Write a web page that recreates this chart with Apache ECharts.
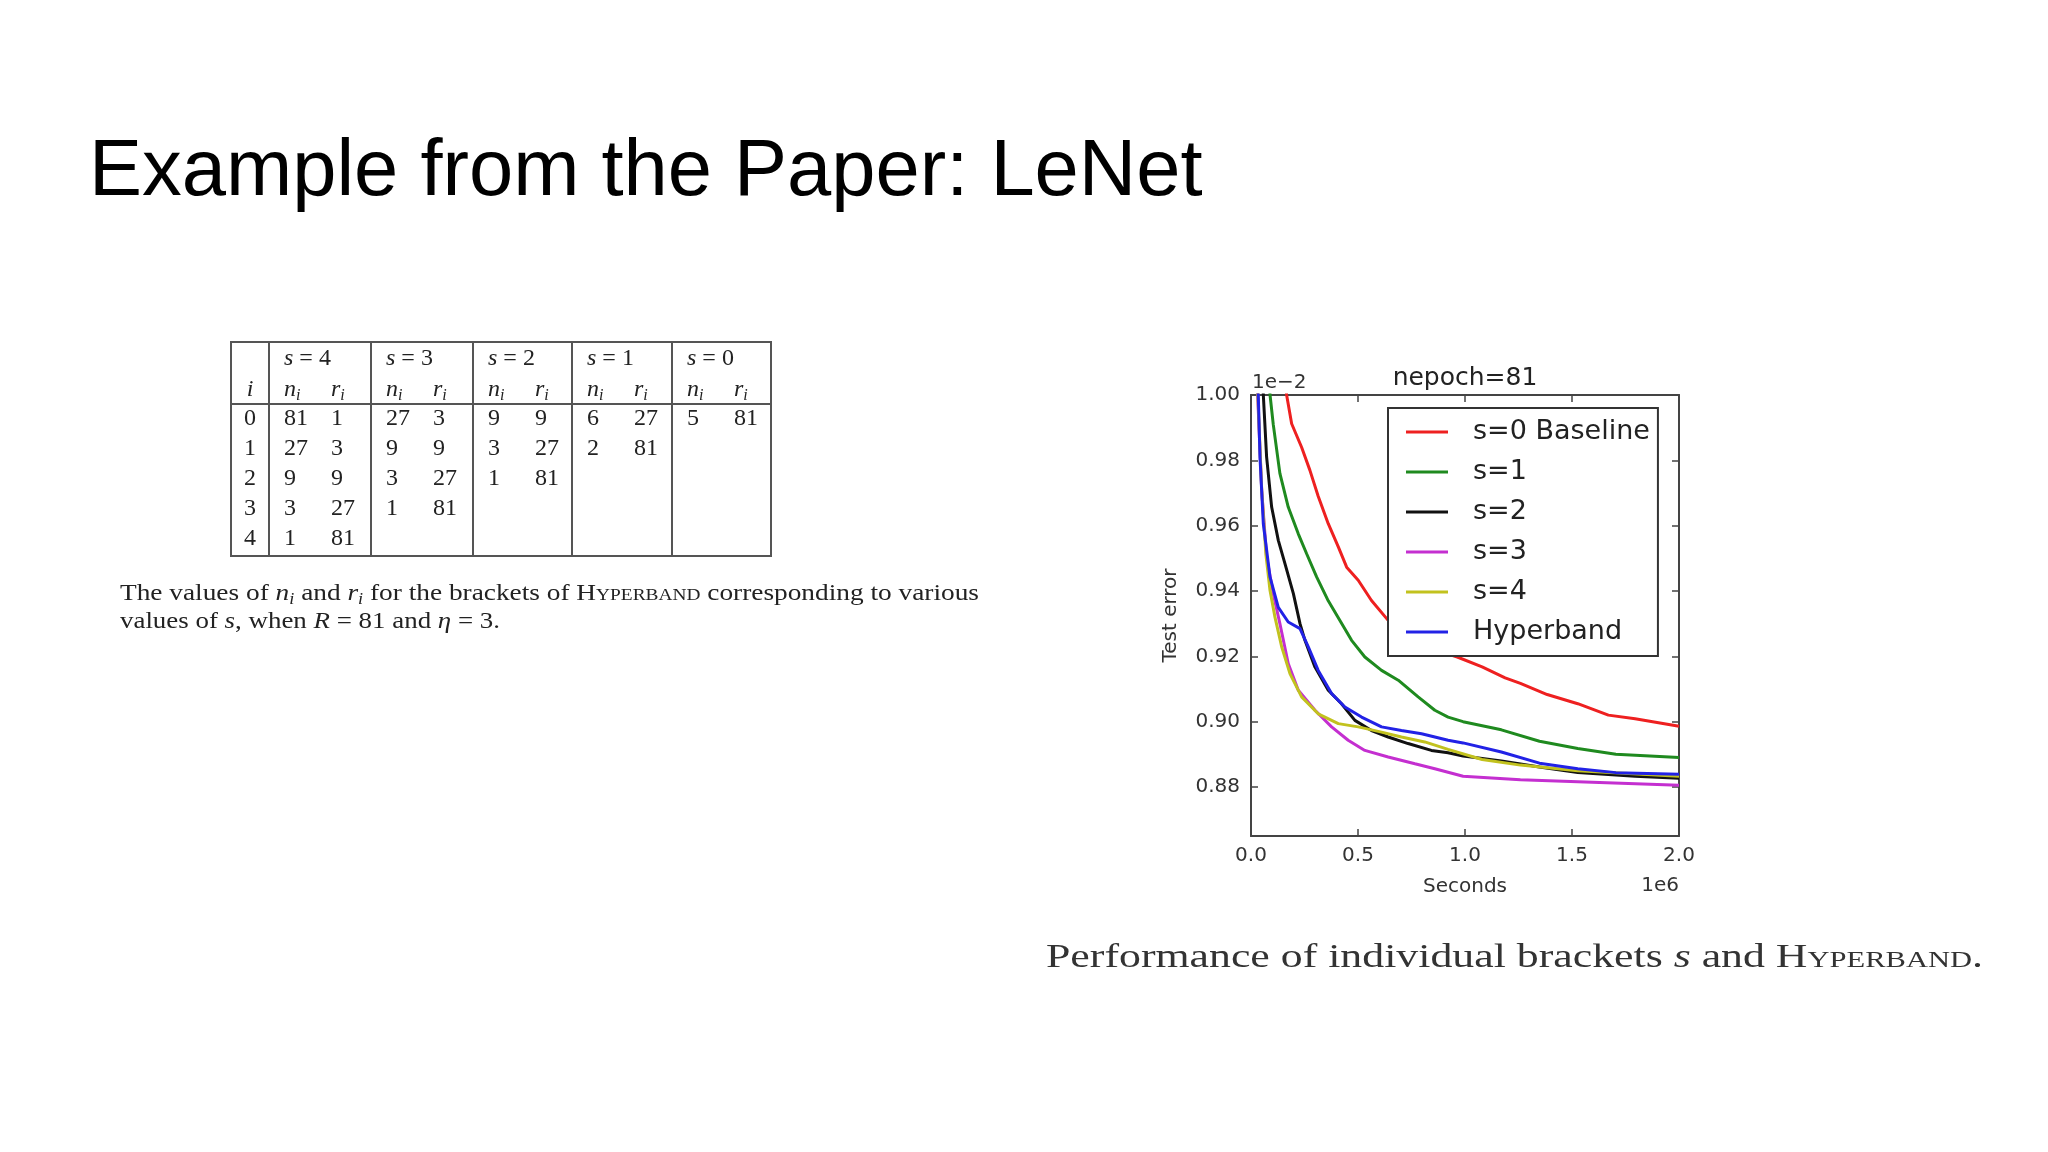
<!DOCTYPE html>
<html><head><meta charset="utf-8">
<script src="https://cdn.jsdelivr.net/npm/echarts@6/dist/echarts.min.js"></script>
<style>
html,body{margin:0;padding:0;background:#fff;}
#page{position:relative;width:2048px;height:1152px;overflow:hidden;background:#fff;}
#chart{position:absolute;left:0;top:0;width:2048px;height:1152px;}
#slideTitle{position:absolute;left:89px;top:128px;font-family:'Liberation Sans',Arial,sans-serif;font-size:79.5px;line-height:79px;color:#000;white-space:nowrap;}
#tbl{position:absolute;left:230px;top:341px;border-collapse:collapse;table-layout:fixed;font-family:'Liberation Serif',serif;font-size:24px;color:#222;border:2px solid #555;}
#tbl td{padding:0 0 0 14px;text-align:left;vertical-align:middle;white-space:nowrap;overflow:visible;line-height:22px;}
#tbl td.ic{padding-left:0;text-align:center;}
#tbl td.bl{border-left:2px solid #555;}
#tbl tr.h1 td{height:28px;padding-bottom:5px;}
#tbl tr.h2 td{height:23px;padding-bottom:4px;border-bottom:2px solid #555;}
#tbl tr.d td{height:24px;padding-bottom:6px;}
#tbl sub{font-size:16px;vertical-align:-4px;line-height:0;}
.eq{margin:0 6px;}
.cap1{position:absolute;left:120px;font-family:'Liberation Serif',serif;font-size:24px;color:#222;white-space:nowrap;line-height:28px;transform-origin:0 0;}
.cap1 sub{font-size:16px;vertical-align:-4px;line-height:0;}
#cap2{position:absolute;left:1046px;top:936px;font-family:'Liberation Serif',serif;font-size:33px;line-height:40px;color:#333;white-space:nowrap;transform-origin:0 0;}
.sc{font-variant:small-caps;}
</style>
</head><body>
<div id="page">
<div id="chart"></div>
<div id="slideTitle">Example from the Paper: LeNet</div>
<table id="tbl"><colgroup id="cols"></colgroup><tbody id="tbody"></tbody></table>
<div class="cap1" id="cap1a" style="top:578px;">The values of <i>n<sub>i</sub></i> and <i>r<sub>i</sub></i> for the brackets of <span class="sc">Hyperband</span> corresponding to various</div>
<div class="cap1" id="cap1b" style="top:606px;">values of <i>s</i>, when <i>R</i> = 81 and <i>η</i> = 3.</div>
<div id="cap2">Performance of individual brackets <i>s</i> and <span class="sc">Hyperband</span>.</div>
</div>
<script>
// ---------- table data ----------
const bracketLabels = ['4', '3', '2', '1', '0'];
const stageIndex = [0, 1, 2, 3, 4];
const tableN = [[81, 27, 9, 3, 1], [27, 9, 3, 1], [9, 3, 1], [6, 2], [5]];
const tableR = [[1, 3, 9, 27, 81], [3, 9, 27, 81], [9, 27, 81], [27, 81], [81]];

// ---------- chart data (x in 1e6 seconds, y as shown on axis) ----------
const seriesNames = ['s=0 Baseline', 's=1', 's=2', 's=3', 's=4', 'Hyperband'];
const seriesColors = ['#ee2020', '#1f8a1f', '#111111', '#c42fd0', '#c2c21e', '#2222e6'];
const xTickValues = [0, 0.5, 1.0, 1.5, 2.0];
const yTickValues = [0.88, 0.90, 0.92, 0.94, 0.96, 0.98, 1.00];
const s0Baseline = [[0.160,1.005],[0.1665,1.0],[0.19,0.9912],[0.2365,0.984],[0.275,0.977],[0.314,0.969],[0.361,0.9606],[0.408,0.9535],[0.447,0.9473],[0.501,0.9433],[0.563,0.9371],[0.641,0.931],[0.75,0.926],[0.86,0.922],[0.964,0.9198],[1.08,0.9168],[1.1875,0.9134],[1.259,0.9117],[1.384,0.9083],[1.527,0.9055],[1.67,0.902],[1.795,0.9009],[2.0,0.8986]];
const s1 = [[0.085,1.005],[0.089,1.0],[0.104,0.991],[0.135,0.976],[0.174,0.9657],[0.221,0.9575],[0.26,0.9514],[0.3066,0.9443],[0.361,0.937],[0.4155,0.931],[0.47,0.9249],[0.532,0.9198],[0.61,0.9157],[0.688,0.9127],[0.781,0.9076],[0.859,0.9035],[0.921,0.9014],[0.991,0.9],[1.17,0.8975],[1.348,0.894],[1.527,0.8918],[1.705,0.89],[2.0,0.889]];
const s2 = [[0.054,1.005],[0.0576,1.0],[0.073,0.981],[0.0965,0.9657],[0.1276,0.9555],[0.159,0.9483],[0.198,0.9392],[0.229,0.930],[0.252,0.9249],[0.299,0.9167],[0.361,0.9096],[0.423,0.9055],[0.4855,0.9004],[0.563,0.8973],[0.641,0.8953],[0.734,0.8933],[0.843,0.8912],[0.921,0.8905],[0.991,0.8895],[1.17,0.888],[1.348,0.8861],[1.527,0.8844],[1.795,0.8833],[2.0,0.8827]];
const s3 = [[0.028,1.005],[0.031,1.0],[0.05,0.9708],[0.073,0.9504],[0.104,0.9392],[0.135,0.930],[0.174,0.9178],[0.221,0.9096],[0.299,0.9035],[0.3766,0.8984],[0.454,0.8943],[0.532,0.8912],[0.641,0.8892],[0.766,0.8871],[0.859,0.8856],[0.991,0.8833],[1.259,0.8822],[1.527,0.8816],[2.0,0.8805]];
const s4 = [[0.029,1.005],[0.032,1.0],[0.05,0.971],[0.07,0.951],[0.0887,0.9402],[0.112,0.932],[0.143,0.923],[0.182,0.9147],[0.2365,0.9076],[0.314,0.9024],[0.408,0.8994],[0.501,0.8984],[0.61,0.8968],[0.703,0.8953],[0.812,0.8938],[0.921,0.8915],[1.08,0.8884],[1.259,0.8867],[1.527,0.885],[2.0,0.8833]];
const hyperband = [[0.031,1.005],[0.034,1.0],[0.042,0.981],[0.0576,0.9606],[0.0887,0.9443],[0.1276,0.935],[0.174,0.9305],[0.229,0.9285],[0.2677,0.9229],[0.314,0.9157],[0.3766,0.9086],[0.4388,0.9045],[0.5166,0.9014],[0.61,0.8984],[0.703,0.8973],[0.797,0.8963],[0.921,0.8943],[0.991,0.8935],[1.17,0.8907],[1.348,0.8873],[1.527,0.8856],[1.705,0.8844],[2.0,0.8839]];
const seriesData = [s0Baseline, s1, s2, s3, s4, hyperband];

// ---------- build table ----------
(function(){
  const colW = [38, 48, 54, 48, 54, 48, 51, 48, 52, 48, 51];
  const cg = document.getElementById('cols');
  colW.forEach(w => { const c = document.createElement('col'); c.style.width = w + 'px'; cg.appendChild(c); });
  const tb = document.getElementById('tbody');
  let h1 = '<tr class="h1"><td class="ic"></td>';
  bracketLabels.forEach(b => { h1 += '<td class="bl" colspan="2"><i>s</i><span class="eq">=</span>' + b + '</td>'; });
  h1 += '</tr>';
  let h2 = '<tr class="h2"><td class="ic"><i>i</i></td>';
  bracketLabels.forEach(() => { h2 += '<td class="bl"><i>n<sub>i</sub></i></td><td><i>r<sub>i</sub></i></td>'; });
  h2 += '</tr>';
  let rows = '';
  stageIndex.forEach(i => {
    rows += '<tr class="d"><td class="ic">' + i + '</td>';
    bracketLabels.forEach((b, k) => {
      const n = tableN[k][i], r = tableR[k][i];
      rows += '<td class="bl">' + (n === undefined ? '' : n) + '</td><td>' + (r === undefined ? '' : r) + '</td>';
    });
    rows += '</tr>';
  });
  tb.innerHTML = h1 + h2 + rows;
})();

// ---------- fit caption widths to the paper's wider font ----------
function fitWidth(id, target) {
  const el = document.getElementById(id);
  el.style.transform = 'none';
  const w = el.getBoundingClientRect().width;
  if (w > 0) el.style.transform = 'scaleX(' + (target / w) + ')';
}
function fitAll() {
  fitWidth('cap1a', 859);
  fitWidth('cap1b', 380);
  fitWidth('cap2', 937);
}
fitAll();
if (document.fonts && document.fonts.ready) document.fonts.ready.then(fitAll);

// ---------- chart ----------
const chart = echarts.init(document.getElementById('chart'), null, {renderer: 'canvas'});
const axisLineStyle = {color: '#444', width: 2};
const tickStyle = {color: '#444', width: 1.5};
const labelFont = {color: '#333', fontSize: 20, fontFamily: 'DejaVu Sans'};
const option = {
  animation: false,
  backgroundColor: 'transparent',
  grid: {left: 1251, top: 395, width: 428, height: 441, containLabel: false},
  xAxis: [
    {type: 'value', gridIndex: 0, position: 'bottom', min: 0, max: 2, interval: 0.5,
     axisLine: {show: true, onZero: false, lineStyle: axisLineStyle},
     axisTick: {show: true, inside: true, length: 7, lineStyle: tickStyle},
     axisLabel: Object.assign({margin: 10, formatter: v => v.toFixed(1)}, labelFont),
     splitLine: {show: false},
     name: 'Seconds', nameLocation: 'middle', nameGap: 41,
     nameTextStyle: {color: '#333', fontSize: 20, fontFamily: 'DejaVu Sans'}},
    {type: 'value', gridIndex: 0, position: 'top', min: 0, max: 2, interval: 0.5,
     axisLine: {show: true, onZero: false, lineStyle: axisLineStyle},
     axisTick: {show: true, inside: true, length: 7, lineStyle: tickStyle},
     axisLabel: {show: false}, splitLine: {show: false}}
  ],
  yAxis: [
    {type: 'value', gridIndex: 0, position: 'left', min: 0.865, max: 1.0,
     axisLine: {show: true, onZero: false, lineStyle: axisLineStyle},
     axisTick: {show: true, inside: true, length: 7, lineStyle: tickStyle, customValues: yTickValues},
     axisLabel: Object.assign({margin: 11, customValues: yTickValues, formatter: v => v.toFixed(2)}, labelFont),
     splitLine: {show: false},
     name: 'Test error', nameLocation: 'middle', nameGap: 70, nameRotate: 90,
     nameTextStyle: {color: '#333', fontSize: 20, fontFamily: 'DejaVu Sans'}},
    {type: 'value', gridIndex: 0, position: 'right', min: 0.865, max: 1.0,
     axisLine: {show: true, onZero: false, lineStyle: axisLineStyle},
     axisTick: {show: true, inside: true, length: 7, lineStyle: tickStyle, customValues: yTickValues},
     axisLabel: {show: false}, splitLine: {show: false}}
  ],
  legend: {
    data: seriesNames, orient: 'vertical', left: 1388, top: 408,
    backgroundColor: '#fff', borderColor: '#333', borderWidth: 2, borderRadius: 0,
    padding: [9, 8, 9, 18], itemGap: 10, itemWidth: 42, itemHeight: 3, icon: 'rect',
    selectedMode: false,
    textStyle: {fontFamily: 'DejaVu Sans', fontSize: 27, color: '#222', lineHeight: 30, padding: [0, 0, 0, 20]}
  },
  graphic: [
    {type: 'text', x: 1465, y: 378, style: {text: 'nepoch=81', font: '25px "DejaVu Sans"', fill: '#222', align: 'center', verticalAlign: 'middle', textAlign: 'center', textVerticalAlign: 'middle'}},
    {type: 'text', x: 1252, y: 383, style: {text: '1e\u22122', font: '20px "DejaVu Sans"', fill: '#333', align: 'left', verticalAlign: 'middle', textAlign: 'left', textVerticalAlign: 'middle'}},
    {type: 'text', x: 1679, y: 886, style: {text: '1e6', font: '20px "DejaVu Sans"', fill: '#333', align: 'right', verticalAlign: 'middle', textAlign: 'right', textVerticalAlign: 'middle'}}
  ],
  series: seriesNames.map((name, k) => ({
    name: name, type: 'line', xAxisIndex: 0, yAxisIndex: 0,
    data: seriesData[k], symbol: 'none', showSymbol: false, clip: true, smooth: false,
    lineStyle: {color: seriesColors[k], width: 3},
    itemStyle: {color: seriesColors[k]},
    emphasis: {disabled: true}
  }))
};
chart.setOption(option);
</script>
</body></html>
